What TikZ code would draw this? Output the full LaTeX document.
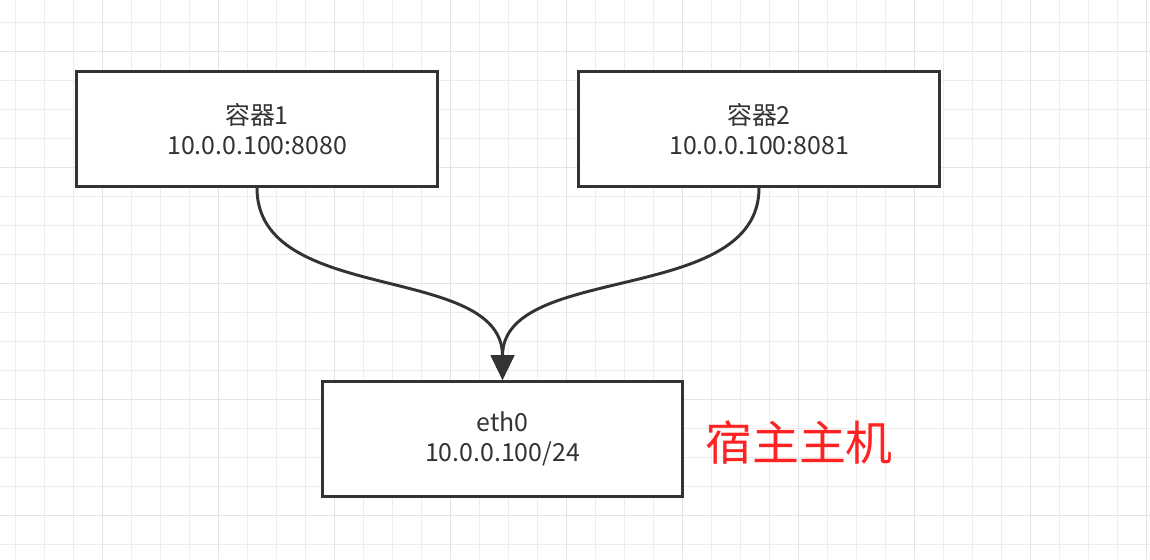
\documentclass[tikz,border=0pt]{standalone}
\usepackage{fontspec}
\newfontfamily\cjk{Noto Sans CJK SC}
\usetikzlibrary{arrows.meta}
\definecolor{inkgray}{HTML}{333333}
\definecolor{notered}{HTML}{FF2222}
\tikzset{
  gridline/.style={draw=black!7, line width=0.7pt},
  gridmajor/.style={draw=black!11, line width=0.7pt},
  box/.style={draw=inkgray, line width=2.1pt, fill=white, minimum width=9cm, minimum height=2.875cm, align=center, text=inkgray, font=\cjk\fontsize{17.7}{21.3}\selectfont},
  link/.style={draw=inkgray, line width=2.1pt, -{Triangle[length=0.62cm, width=0.58cm]}}
}
\begin{document}
\begin{tikzpicture}[x=0.025cm, y=-0.025cm]
\useasboundingbox[fill=white] (0,0) rectangle (1150,559);
\foreach \i in {0,...,39} \draw[gridline] ({15+29*\i},0) -- ({15+29*\i},559);
\foreach \j in {0,...,18} \draw[gridline] (0,{22.7+29*\j}) -- (1150,{22.7+29*\j});
\foreach \i in {3,7,...,39} \draw[gridmajor] ({15+29*\i},0) -- ({15+29*\i},559);
\foreach \j in {1,5,...,17} \draw[gridmajor] (0,{22.7+29*\j}) -- (1150,{22.7+29*\j});
\node[box] (c1) at (257,129) {容器1\\10.0.0.100:8080};
\node[box] (c2) at (759,129) {容器2\\10.0.0.100:8081};
\node[box] (eth) at (502.5,439) {eth0\\10.0.0.100/24};
\node[font=\cjk\fontsize{33.4}{40}\selectfont, text=notered] (host) at (799,443) {宿主主机};
\draw[link] (c1.south) .. controls +(0,118) and +(0,-118) .. (eth.north);
\draw[link] (c2.south) .. controls +(0,118) and +(0,-118) .. (eth.north);
\end{tikzpicture}
\end{document}
